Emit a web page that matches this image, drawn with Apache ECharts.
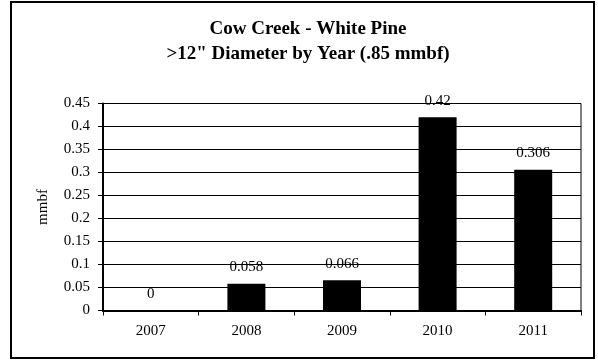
<!DOCTYPE html>
<html>
<head>
<meta charset="utf-8">
<script src="https://cdn.jsdelivr.net/npm/echarts@6/dist/echarts.min.js"></script>
<style>html,body{margin:0;padding:0;background:#fff}#c{width:598px;height:360px}</style>
</head>
<body>
<div id="c"></div>
<script>
const titleLines = ['Cow Creek - White Pine', '>12" Diameter by Year (.85 mmbf)'];
const years = ['2007', '2008', '2009', '2010', '2011'];
const volumes = [0, 0.058, 0.066, 0.42, 0.306];
const labelTexts = ['0', '0.058', '0.066', '0.42', '0.306'];
const yAxisName = 'mmbf';

const FONT = '"Liberation Serif", "Times New Roman", serif';
const chart = echarts.init(document.getElementById('c'), null, {renderer: 'canvas'});
chart.setOption({
  animation: false,
  backgroundColor: '#fff',
  title: {
    text: titleLines.join('\n'),
    left: 303, top: 12, textAlign: 'center',
    textStyle: {fontFamily: FONT, fontWeight: 'bold', fontSize: 19, lineHeight: 25, color: '#000'}
  },
  graphic: [{
    type: 'rect', shape: {x: 11, y: 2, width: 583, height: 356},
    style: {fill: null, stroke: '#000', lineWidth: 2}, z: 100
  }],
  grid: {left: 103, right: 17, top: 103.5, bottom: 49.5, show: true, borderColor: '#000', borderWidth: 1, backgroundColor: '#fff'},
  xAxis: {
    type: 'category', data: years,
    axisLine: {lineStyle: {color: '#000', width: 2}},
    axisTick: {show: true, length: 5, lineStyle: {color: '#000', width: 1}},
    axisLabel: {fontFamily: FONT, fontSize: 15, color: '#000', margin: 13}
  },
  yAxis: {
    type: 'value', min: 0, max: 0.45, interval: 0.05,
    name: yAxisName, nameLocation: 'middle', nameGap: 52, nameRotate: 90,
    nameTextStyle: {fontFamily: FONT, fontSize: 15, color: '#000'},
    axisLine: {show: true, lineStyle: {color: '#000', width: 2}},
    axisTick: {show: true, length: 5, lineStyle: {color: '#000', width: 1}},
    axisLabel: {fontFamily: FONT, fontSize: 15, color: '#000', margin: 13,
      formatter: v => String(Math.round(v * 100) / 100)},
    splitLine: {show: true, lineStyle: {color: '#000', width: 1}}
  },
  series: [{
    type: 'bar', data: volumes, barWidth: 38,
    itemStyle: {color: '#000'},
    label: {show: true, position: 'top', distance: 9, fontFamily: FONT, fontSize: 15, color: '#000',
      formatter: p => labelTexts[p.dataIndex]}
  }]
});
</script>
</body>
</html>
